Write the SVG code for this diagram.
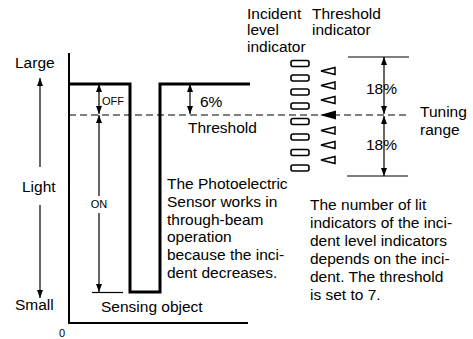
<svg xmlns="http://www.w3.org/2000/svg" width="473" height="339" viewBox="0 0 473 339">
<defs>
<marker id="ah" viewBox="0 0 8 6" refX="8" refY="3" markerWidth="8" markerHeight="6" markerUnits="userSpaceOnUse" orient="auto-start-reverse">
<path d="M0,0 L8,3 L0,6 z" fill="#000"/>
</marker>
</defs>
<style>
text{font-family:"Liberation Sans",Arial,sans-serif;font-size:15.5px;fill:#000}
.s{font-size:11px}
.thin{stroke:#000;stroke-width:1.2;fill:none}
.arr{stroke:#000;stroke-width:1.2;fill:none;marker-end:url(#ah)}
.arr2{stroke:#000;stroke-width:1.2;fill:none;marker-start:url(#ah);marker-end:url(#ah)}
.ind{fill:#fff;stroke:#000;stroke-width:1.6}
.tri{fill:#fff;stroke:#000;stroke-width:1.5}
</style>
<rect width="473" height="339" fill="#fff"/>
<g id="axes">
<path d="M69,53 V323 H248" stroke="#000" stroke-width="2" fill="none"/>
<text x="15" y="68">Large</text>
<text x="22" y="192">Light</text>
<text x="15" y="310">Small</text>
<text class="s" x="59" y="337">0</text>
</g>
<g id="signal">
<path d="M69,84 H130 V292 H160 V84 H250" stroke="#000" stroke-width="3" fill="none"/>
</g>
<g id="threshold">
<line x1="69" y1="115" x2="408" y2="115" stroke="#000" stroke-width="1.2" stroke-dasharray="7,4"/>
<text x="188" y="133">Threshold</text>
<text x="200" y="107">6%</text>
</g>
<g id="labels">
<text class="s" x="102" y="105">OFF</text>
<text class="s" x="99" y="208" text-anchor="middle">ON</text>
<text x="101" y="312">Sensing object</text>
<text x="167" y="189">The Photoelectric</text>
<text x="167" y="207">Sensor works in</text>
<text x="167" y="224.5">through-beam</text>
<text x="167" y="242">operation</text>
<text x="167" y="260">because the inci-</text>
<text x="167" y="278">dent decreases.</text>
<text x="310" y="210">The number of lit</text>
<text x="310" y="228">indicators of the inci-</text>
<text x="310" y="246">dent level indicators</text>
<text x="310" y="264">depends on the inci-</text>
<text x="310" y="282">dent. The threshold</text>
<text x="310" y="300">is set to 7.</text>
<text x="247" y="19">Incident</text>
<text x="247" y="35">level</text>
<text x="247" y="51.5">indicator</text>
<text x="312" y="19">Threshold</text>
<text x="312" y="35">indicator</text>
<text x="366" y="94">18%</text>
<text x="366" y="150">18%</text>
<text x="420" y="117">Tuning</text>
<text x="420" y="135">range</text>
</g>
<g id="incident-indicators">
<rect class="ind" x="291" y="60.5" width="18" height="6" rx="2"/>
<rect class="ind" x="291" y="75" width="18" height="6" rx="2"/>
<rect class="ind" x="291" y="89" width="18" height="6" rx="2"/>
<rect class="ind" x="291" y="103" width="18" height="6" rx="2"/>
<rect class="ind" x="291" y="118.5" width="18" height="6" rx="2"/>
<rect class="ind" x="291" y="134" width="18" height="6" rx="2"/>
<rect class="ind" x="291" y="149.5" width="18" height="6" rx="2"/>
<rect class="ind" x="291" y="165" width="18" height="6" rx="2"/>
</g>
<g id="threshold-indicators">
<path class="tri" d="M321,71 L335,67.5 V74.5 z"/>
<path class="tri" d="M321,85.5 L335,82 V89 z"/>
<path class="tri" d="M321,100 L335,96.5 V103.5 z"/>
<path d="M320,115 L336,110.5 V119.5 z" fill="#000"/>
<path class="tri" d="M321,130.5 L335,127 V134 z"/>
<path class="tri" d="M321,145 L335,141.5 V148.5 z"/>
<path class="tri" d="M321,160 L335,156.5 V163.5 z"/>
</g>
<g id="connectors">
<line class="arr" x1="40" y1="167" x2="40" y2="78"/>
<line class="arr" x1="40" y1="205" x2="40" y2="298"/>
<line class="arr2" x1="99" y1="84" x2="99" y2="114"/>
<line class="arr" x1="99" y1="196" x2="99" y2="115"/>
<line class="arr" x1="99" y1="213" x2="99" y2="292"/>
<line class="thin" x1="92" y1="292.5" x2="123" y2="292.5"/>
<line class="arr2" x1="190" y1="84" x2="190" y2="114"/>
<line class="thin" x1="348" y1="57" x2="409" y2="57"/>
<line class="thin" x1="347" y1="176" x2="408" y2="176"/>
<line class="arr2" x1="384" y1="57" x2="384" y2="114"/>
<line class="arr2" x1="384" y1="116" x2="384" y2="176"/>
</g>
</svg>
